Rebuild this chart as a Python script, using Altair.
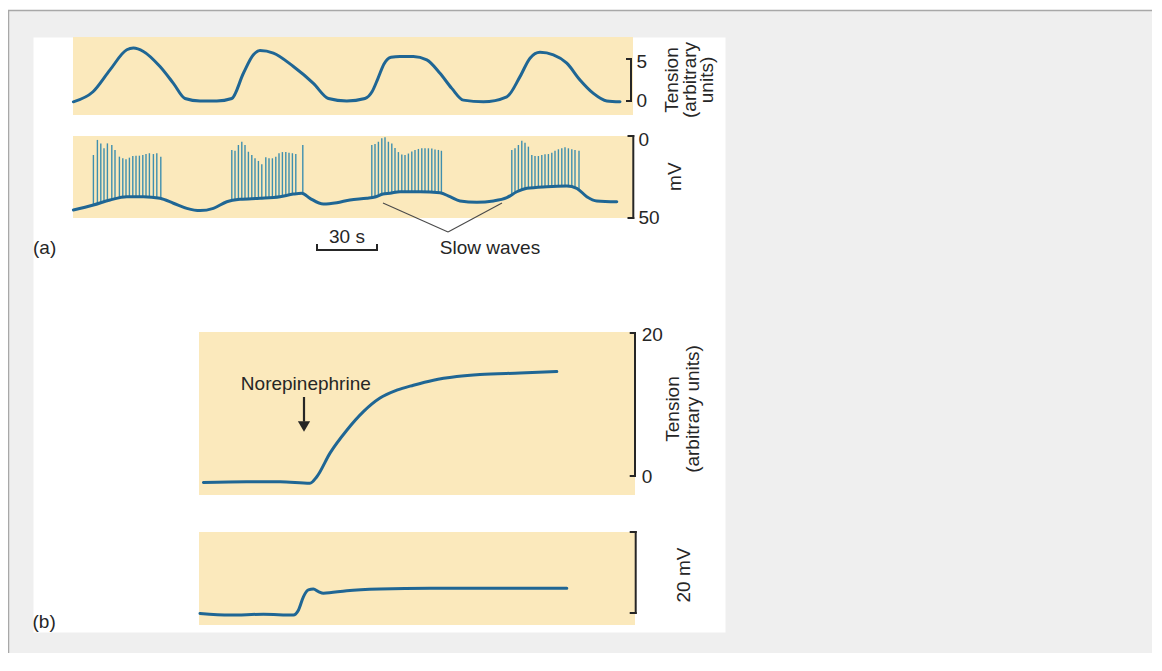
import altair as alt
import pandas as pd

FONT = "Liberation Sans"
TRACE = "#1f6694"
SPIKE = "#3f8fae"
BEIGE = "#fbe9bc"
INK = "#262626"
FS = 19

# ---------------- Panel (a): upper trace, tension (arbitrary units) vs time (s)
a_tension_t = [0.2, 10.0, 18.5, 26.9, 30.2, 35.2, 43.5, 50.2, 56.0, 63.5,
               71.9, 79.4, 85.2, 90.2, 93.5, 100.2, 110.2, 120.2, 127.7, 136.9,
               146.0, 149.5, 152.5, 155.5, 159.0, 163.5, 170.2, 176.9, 183.5, 189.4,
               195.2, 205.2, 216.9, 223.5, 228.5, 233.5, 240.2, 246.9, 253.5, 260.2,
               266.9, 273.5]
a_tension_v = [-0.1, 1.1, 3.7, 6.1, 6.3, 5.9, 4.1, 2.1, 0.3, 0.0,
               0.0, 0.3, 3.3, 5.5, 6.0, 5.7, 4.1, 2.1, 0.3, 0.0,
               0.3, 1.1, 2.7, 4.4, 5.2, 5.3, 5.3, 4.9, 3.3, 1.5,
               0.1, -0.1, 0.5, 2.9, 5.1, 5.8, 5.5, 4.5, 2.5, 0.9,
               0.0, -0.1]

# ---------------- Panel (a): lower trace, slow waves (mV) vs time (s)
a_slow_t = [0.2, 10.2, 18.5, 26.9, 35.2, 43.5, 50.2, 56.9, 63.5, 70.2,
            76.9, 83.5, 93.5, 103.5, 110.2, 114.4, 118.5, 125.2, 131.9, 138.5,
            146.9, 151.0, 155.0, 158.5, 163.5, 173.5, 183.5, 188.5, 193.5, 201.9,
            210.2, 216.9, 221.9, 226.9, 236.9, 246.9, 251.9, 256.9, 261.9, 271.9]
a_slow_mv = [-45.1, -42.1, -39.0, -37.0, -37.0, -38.0, -41.0, -44.1, -45.5, -44.1,
             -40.1, -38.6, -38.0, -37.0, -35.4, -34.9, -38.0, -41.5, -40.7, -39.0,
             -38.0, -37.2, -35.4, -34.9, -34.0, -34.0, -34.6, -37.0, -39.6, -40.4,
             -39.6, -37.6, -34.0, -31.9, -30.9, -30.5, -31.9, -37.0, -39.6, -40.1]

# action potentials (spikes): time, peak and foot (mV)
spike_t = [10.2, 12.2, 13.9, 15.5, 17.2, 19.4, 21.0, 23.2, 24.9, 26.5,
           28.2, 29.9, 31.5, 33.2, 34.9, 36.5, 38.2, 40.2, 41.9, 43.9,
           79.4, 81.0, 82.7, 84.4, 86.0, 87.7, 89.4, 91.0, 92.7, 94.4,
           96.4, 98.0, 99.7, 101.4, 103.0, 104.7, 106.4, 108.0, 109.7, 111.4, 114.9,
           149.4, 151.0, 152.7, 154.4, 156.0, 157.7, 159.4, 161.0, 162.7, 164.4,
           166.0, 167.7, 169.4, 171.0, 172.7, 174.4, 176.0, 177.7, 179.4, 181.0, 182.7, 184.2,
           219.4, 221.0, 222.7, 224.4, 226.0, 227.7, 229.4, 231.0, 232.7, 234.4,
           236.0, 237.7, 239.4, 241.0, 242.7, 244.4, 246.0, 247.7, 249.4, 251.0, 253.0]
spike_top = [-11.6, -2.4, -4.5, -7.5, -4.5, -5.5, -8.5, -12.6, -13.6, -14.2,
             -13.2, -12.2, -12.0, -12.0, -11.6, -11.0, -10.5, -11.0, -10.5, -12.6,
             -8.5, -9.0, -5.5, -3.5, -5.5, -9.6, -11.6, -13.6, -15.2, -17.3,
             -13.0, -13.6, -13.6, -12.6, -10.5, -9.8, -9.8, -10.2, -10.5, -11.0, -5.5,
             -5.5, -4.9, -3.5, -1.4, -0.8, -3.5, -4.5, -7.3, -9.8, -11.3,
             -11.6, -10.7, -9.5, -8.5, -7.9, -7.5, -7.5, -7.5, -7.6, -8.2, -8.5, -9.0,
             -8.5, -7.5, -5.5, -2.9, -4.1, -6.5, -11.6, -12.2, -12.2, -11.6,
             -11.2, -11.0, -10.2, -9.0, -8.1, -7.5, -6.9, -7.5, -8.1, -8.5, -9.0]
spike_base = [-42.0, -41.3, -40.6, -40.0, -39.4, -38.8, -38.4, -37.9, -37.4, -37.0,
              -37.0, -37.0, -37.0, -37.0, -37.0, -37.0, -37.3, -37.6, -37.8, -38.1,
              -39.5, -39.1, -38.8, -38.5, -38.4, -38.3, -38.2, -38.1, -38.0, -37.9,
              -37.7, -37.5, -37.4, -37.2, -37.0, -36.7, -36.3, -35.9, -35.5, -35.2, -35.0,
              -37.5, -37.2, -36.5, -35.7, -35.3, -35.0, -34.8, -34.5, -34.2, -34.0,
              -34.0, -34.0, -34.0, -34.0, -34.0, -34.0, -34.0, -34.2, -34.3, -34.4, -34.5, -34.7,
              -35.8, -34.5, -33.6, -32.9, -32.2, -31.8, -31.6, -31.4, -31.2, -31.1,
              -31.0, -30.9, -30.8, -30.7, -30.7, -30.6, -30.5, -30.7, -31.0, -31.6, -32.5]

# ---------------- Panel (b): tension and membrane potential with norepinephrine
b_tension_t = [2.2, 23.9, 40.5, 55.5, 58.9, 65.5, 73.9, 82.2, 90.5, 98.9,
               107.2, 117.2, 128.9, 140.5, 160.5, 178.9]
b_tension_v = [-0.9, -0.8, -0.8, -1.0, -0.1, 3.2, 6.4, 9.0, 10.9, 12.0,
               12.7, 13.4, 13.9, 14.2, 14.4, 14.6]
b_mv_t = [0.5, 15.5, 32.2, 47.2, 49.7, 52.2, 54.7, 57.2, 59.7, 62.2,
          73.9, 90.5, 115.5, 140.5, 183.9]
b_mv_v = [-0.1, -0.5, -0.3, -0.5, 0.7, 4.0, 5.7, 5.9, 5.3, 4.9,
          5.5, 5.9, 6.1, 6.1, 6.1]

# ---------------- scales (each panel placed in the figure through its range)
A_X = alt.Scale(domain=[0, 280], range=[40, 600], nice=False, zero=False)
A1_Y = alt.Scale(domain=[-1.67, 7.62], range=[78, 0], nice=False, zero=False)
A2_Y = alt.Scale(domain=[-50, 0], range=[181, 99], nice=False, zero=False)
B_X = alt.Scale(domain=[0, 218], range=[166, 602], nice=False, zero=False)
B1_Y = alt.Scale(domain=[-2.66, 20.14], range=[458, 295], nice=False, zero=False)
B2_Y = alt.Scale(domain=[-2.96, 20], range=[588, 495], nice=False, zero=False)
# page frame, in screenshot pixel units
F_X = alt.Scale(domain=[0, 1162], range=[-33, 1129], nice=False, zero=False)
F_Y = alt.Scale(domain=[0, 671], range=[-37, 634], nice=False, zero=False)


def X(f, s):
    return alt.X(f, type="quantitative", scale=s, axis=None)


def Y(f, s):
    return alt.Y(f, type="quantitative", scale=s, axis=None)


def bg(xs, ys):
    d = pd.DataFrame({"x": [xs.domain[0]], "x2": [xs.domain[1]],
                      "y": [ys.domain[0]], "y2": [ys.domain[1]]})
    return alt.Chart(d).mark_rect(color=BEIGE).encode(
        x=X("x", xs), x2="x2", y=Y("y", ys), y2="y2")


def segs(rows, xs, ys, color=INK, width=2.0, cap="square"):
    d = pd.DataFrame(rows, columns=["x", "x2", "y", "y2"])
    return alt.Chart(d).mark_rule(color=color, strokeWidth=width, strokeCap=cap).encode(
        x=X("x", xs), x2="x2", y=Y("y", ys), y2="y2")


def trace(t, v, xs, ys):
    d = pd.DataFrame({"t": t, "v": v})
    return alt.Chart(d).mark_line(color=TRACE, strokeWidth=3, interpolate="monotone",
                                  strokeCap="round", strokeJoin="round").encode(
        x=X("t", xs), y=Y("v", ys))


def label(rows, xs, ys, **kw):
    d = pd.DataFrame(rows, columns=["x", "y", "label"])
    opts = dict(font=FONT, fontSize=FS, color=INK)
    opts.update(kw)
    return alt.Chart(d).mark_text(**opts).encode(
        x=X("x", xs), y=Y("y", ys), text="label:N")


# ---------------- frame
frame = alt.layer(
    alt.Chart(pd.DataFrame({"x": [0], "x2": [1162], "y": [0], "y2": [10]}))
    .mark_rect(color="#ffffff").encode(x=X("x", F_X), x2="x2", y=Y("y", F_Y), y2="y2"),
    segs([[0, 1162, 10.5, 10.5], [8.5, 8.5, 10, 671]], F_X, F_Y, color="#a8a8a8", width=1.5, cap="butt"),
)

# ---------------- panel (a) top
panel_a1 = alt.layer(
    bg(A_X, A1_Y),
    trace(a_tension_t, a_tension_v, A_X, A1_Y),
    segs([[279, 279, 0, 5], [277, 279, 0, 0], [277, 279, 5, 5]], A_X, A1_Y),
    label([[281.75, 4.68, "5"], [281.75, 0, "0"]], A_X, A1_Y, align="left", baseline="middle"),
    label([[299.5, 2.5, "Tension\n(arbitrary\nunits)"]], A_X, A1_Y, align="center",
          baseline="middle", angle=270, lineBreak="\n", lineHeight=17.5),
)

# ---------------- panel (a) bottom
spikes = alt.Chart(pd.DataFrame({"t": spike_t, "top": spike_top, "base": spike_base})).mark_rule(
    color=SPIKE, strokeWidth=1.4).encode(x=X("t", A_X), y=Y("top", A2_Y), y2="base")

panel_a2 = alt.layer(
    bg(A_X, A2_Y),
    spikes,
    trace(a_slow_t, a_slow_mv, A_X, A2_Y),
    segs([[280.15, 280.15, -50, 0], [277.75, 280.15, 0, 0], [277.75, 280.15, -50, -50]], A_X, A2_Y),
    label([[282.75, -2.7, "0"], [282.75, -50.2, "50"]], A_X, A2_Y, align="left", baseline="middle"),
    label([[301.0, -24.8, "mV"]], A_X, A2_Y, align="center", baseline="middle", angle=270),
    segs([[155, 187.5, -40.9, -58.5], [187.5, 214.5, -58.5, -40.9]], A_X, A2_Y,
         color="#4a4a4a", width=1.1, cap="butt"),
    label([[208.5, -68.3, "Slow waves"]], A_X, A2_Y, align="center", baseline="middle"),
    segs([[122, 152, -69.5, -69.5], [122, 122, -69.5, -66.5], [152, 152, -69.5, -66.5]], A_X, A2_Y),
    label([[137, -61.4, "30 s"]], A_X, A2_Y, align="center", baseline="middle"),
    label([[-20, -68.0, "(a)"]], A_X, A2_Y, align="left", baseline="middle"),
)

# ---------------- panel (b) top
arrow_head = alt.Chart(pd.DataFrame({"x": [52.5], "y": [6.92]})).mark_point(
    shape="triangle-down", filled=True, size=150, color=INK, opacity=1).encode(
    x=X("x", B_X), y=Y("y", B1_Y))

panel_b1 = alt.layer(
    bg(B_X, B1_Y),
    trace(b_tension_t, b_tension_v, B_X, B1_Y),
    segs([[218, 218, 0, 20], [215.85, 218, 0, 0], [215.85, 218, 20, 20]], B_X, B1_Y),
    label([[221.4, 19.68, "20"], [221.4, -0.2, "0"]], B_X, B1_Y, align="left", baseline="middle"),
    label([[237.0, 9.37, "Tension\n(arbitrary units)"]], B_X, B1_Y, align="center",
          baseline="middle", angle=270, lineBreak="\n", lineHeight=20),
    label([[53.4, 12.87, "Norepinephrine"]], B_X, B1_Y, align="center", baseline="middle"),
    segs([[52.5, 52.5, 11.05, 7.6]], B_X, B1_Y, width=2.2, cap="butt"),
    arrow_head,
)

# ---------------- panel (b) bottom
panel_b2 = alt.layer(
    bg(B_X, B2_Y),
    trace(b_mv_t, b_mv_v, B_X, B2_Y),
    segs([[218.35, 218.35, 0, 20], [215.85, 218.35, 0, 0], [215.85, 218.35, 20, 20]], B_X, B2_Y),
    label([[242.5, 9.38, "20 mV"]], B_X, B2_Y, align="center", baseline="middle", angle=270),
    label([[-83.25, -2.1, "(b)"]], B_X, B2_Y, align="left", baseline="middle"),
)

chart = alt.layer(frame, panel_a1, panel_a2, panel_b1, panel_b2).resolve_scale(
    x="independent", y="independent"
).properties(
    width=692, height=595,
    padding={"left": 25, "top": 29, "right": 427, "bottom": 21},
    autosize=alt.AutoSizeParams(type="none"),
    background="#efefef",
).configure_view(fill="#ffffff", stroke="transparent")

chart.save("out.html", embed_options={"renderer": "svg", "actions": False})
